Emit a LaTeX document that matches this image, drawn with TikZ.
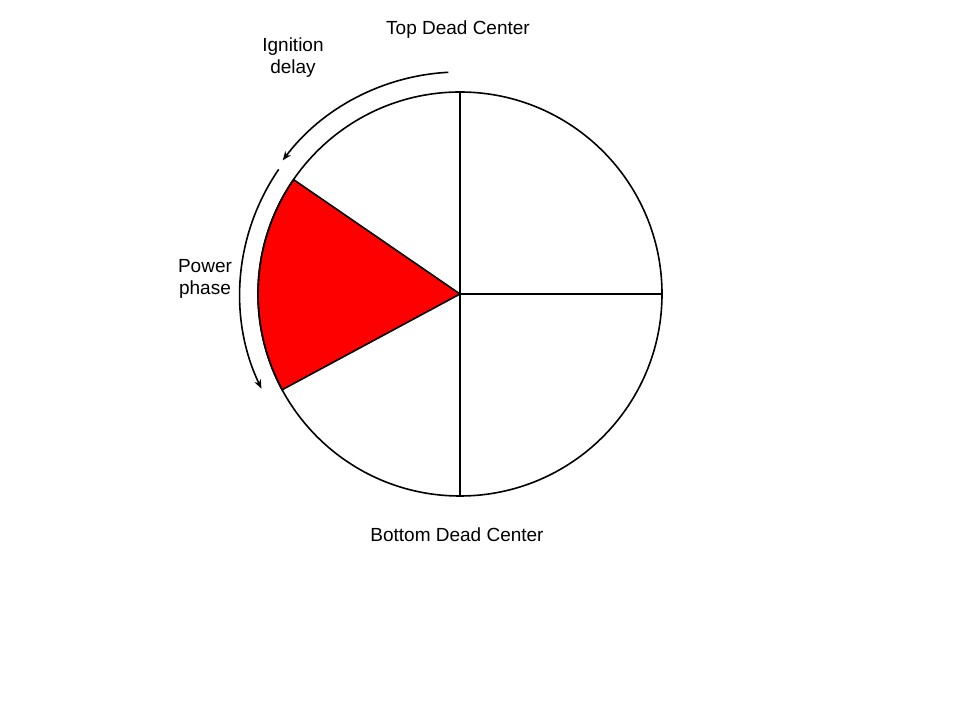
\documentclass[tikz,border=0pt]{standalone}
\usepackage{fontspec}
\setmainfont{Liberation Sans}
\usetikzlibrary{arrows.meta,calc}
\begin{document}
\begin{tikzpicture}[x=1pt,y=1pt,
  lbl/.style={font=\fontsize{19}{22}\selectfont, align=center, inner sep=0pt},
  body/.style={line width=1.6pt, black},
  motion/.style={line width=1.6pt, -{Stealth[length=9pt,width=7pt]}}]
\useasboundingbox (0,0) rectangle (960,720);
\fill[white] (0,0) rectangle (960,720);
\coordinate (C) at (460,426);
\coordinate (T) at (460,628);
\coordinate (B) at (460,224);
\coordinate (R) at (662,426);
\draw[body, fill=red] (C) -- ++(145.5:202) arc[start angle=145.5, end angle=208.3, radius=202] -- cycle;
\draw[body] (C) circle[radius=202];
\draw[body] (T) -- (B);
\draw[body] (C) -- (R);
\draw[motion] ($(C)+(93:222)$) arc[start angle=93, end angle=143, radius=222];
\draw[motion] ($(C)+(145.5:220)$) arc[start angle=145.5, end angle=205.5, radius=220];
\node[lbl] (tdc) at (458,690) {Top Dead Center};
\node[lbl] (ign) at (293,662.5) {Ignition\\delay};
\node[lbl] (pow) at (205,441) {Power\\phase};
\node[lbl] (bdc) at (457,185) {Bottom Dead Center};
\end{tikzpicture}
\end{document}
